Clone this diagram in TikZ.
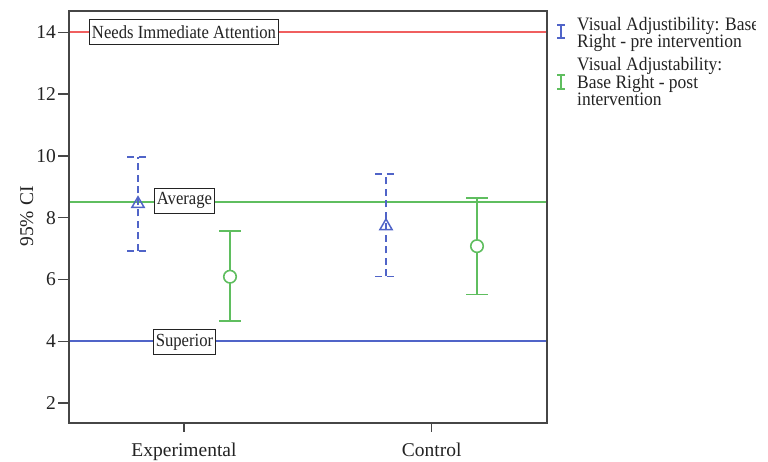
\documentclass[tikz,border=0pt]{standalone}
\usepackage{fontspec}
\setmainfont{Liberation Serif}
\newfontfamily\boxfont[FakeStretch=0.9]{Liberation Serif}
\newfontfamily\legfont[FakeStretch=0.92]{Liberation Serif}
\usetikzlibrary{shapes.geometric}
\definecolor{refred}{RGB}{240,95,95}
\definecolor{refgreen}{RGB}{95,190,95}
\definecolor{refblue}{RGB}{80,100,200}
\definecolor{framegray}{RGB}{70,70,70}
\definecolor{textgray}{RGB}{35,35,35}
\begin{document}
\begin{tikzpicture}[x=1pt,y=-1pt,
  ticklabel/.style={font=\fontsize{19.5}{20}\selectfont, text=textgray, inner sep=0pt},
  refbox/.style={draw=textgray, line width=1.3pt, fill=white, text=textgray,
    font=\boxfont\fontsize{18.5}{19}\selectfont, inner xsep=2.5pt, inner ysep=0pt,
    minimum height=25pt},
  refline/.style={line width=1.8pt},
  prebar/.style={refblue, line width=1.6pt, dash pattern=on 7pt off 4.5pt},
  postbar/.style={refgreen, line width=1.6pt},
  premark/.style={regular polygon, regular polygon sides=3, draw=refblue,
    line width=1.5pt, minimum size=14pt, inner sep=0pt},
  postmark/.style={circle, draw=refgreen, fill=white, line width=1.6pt,
    minimum size=12.5pt, inner sep=0pt},
  legtext/.style={font=\legfont\fontsize{19}{17}\selectfont, text=textgray,
    anchor=base west, inner sep=0pt},
  legmark/.style={line width=1.5pt},
  axisline/.style={framegray, line width=1.8pt},
  tickline/.style={framegray, line width=1.5pt}
]
\useasboundingbox (0,0) rectangle (768,461);

% data scope: x in pixels, y in scale units
\begin{scope}[y=30.9pt, yshift=-464.9pt]
  % reference levels
  \draw[refline, refred]   (69,14)  -- (547,14);
  \draw[refline, refgreen] (69,8.5) -- (547,8.5);
  \draw[refline, refblue]  (69,4)   -- (547,4);

  % y ticks and labels
  \foreach \v in {2,4,...,14} {
    \draw[tickline] (58,\v) -- (69,\v);
    \node[ticklabel, anchor=east] (ytick\v) at (56,\v) {\v};
  }

  % Experimental, pre
  \draw[prebar] (138,6.93) -- (138,9.97);
  \draw[prebar] (127,9.97) -- (149,9.97);
  \draw[prebar] (127,6.93) -- (149,6.93);
  \node[premark] (expPre) at (138,8.45) {};

  % Experimental, post
  \draw[postbar] (230,4.66) -- (230,7.57);
  \draw[postbar] (219,7.57) -- (241,7.57);
  \draw[postbar] (219,4.66) -- (241,4.66);
  \node[postmark] (expPost) at (230,6.09) {};

  % Control, pre
  \draw[prebar] (386,6.1) -- (386,9.41);
  \draw[prebar] (375,9.41) -- (397,9.41);
  \draw[prebar] (375,6.1) -- (397,6.1);
  \node[premark] (ctlPre) at (386,7.73) {};

  % Control, post
  \draw[postbar] (477,5.51) -- (477,8.63);
  \draw[postbar] (466,8.63) -- (488,8.63);
  \draw[postbar] (466,5.51) -- (488,5.51);
  \node[postmark] (ctlPost) at (477,7.08) {};

  % labelled reference boxes
  \node[refbox] (needs)    at (184,14.02) {Needs Immediate Attention};
  \node[refbox] (average)  at (184.5,8.55) {Average};
  \node[refbox] (superior) at (184.5,3.98) {Superior};
\end{scope}

% plot frame
\draw[axisline] (69,11) rectangle (547,423);

% x ticks and category labels
\draw[tickline] (184,423) -- (184,432);
\draw[tickline] (431.7,423) -- (431.7,432);
\node[ticklabel, anchor=base] (catExp) at (184,456) {Experimental};
\node[ticklabel, anchor=base] (catCtl) at (431.7,456) {Control};

% y axis title
\node[ticklabel, anchor=base, rotate=90] (ytitle) at (33,216.5) {95\% CI};

% legend markers
\draw[legmark, refblue] (561,25) -- (561,38);
\draw[legmark, refblue] (557,25) -- (565,25);
\draw[legmark, refblue] (557,38) -- (565,38);
\draw[legmark, refgreen] (561,75) -- (561,89);
\draw[legmark, refgreen] (557,75) -- (565,75);
\draw[legmark, refgreen] (557,89) -- (565,89);

% legend entries, cut off at the legend's right edge
\begin{scope}
  \clip (550,0) rectangle (755,130);
  \node[legtext] (leg1) at (577,30.5)  {Visual Adjustibility: Base};
  \node[legtext] (leg2) at (577,47.7)  {Right - pre intervention};
  \node[legtext] (leg3) at (577,70.5)  {Visual Adjustability:};
  \node[legtext] (leg4) at (577,88)    {Base Right - post};
  \node[legtext] (leg5) at (577,105.5) {intervention};
\end{scope}
\end{tikzpicture}
\end{document}
